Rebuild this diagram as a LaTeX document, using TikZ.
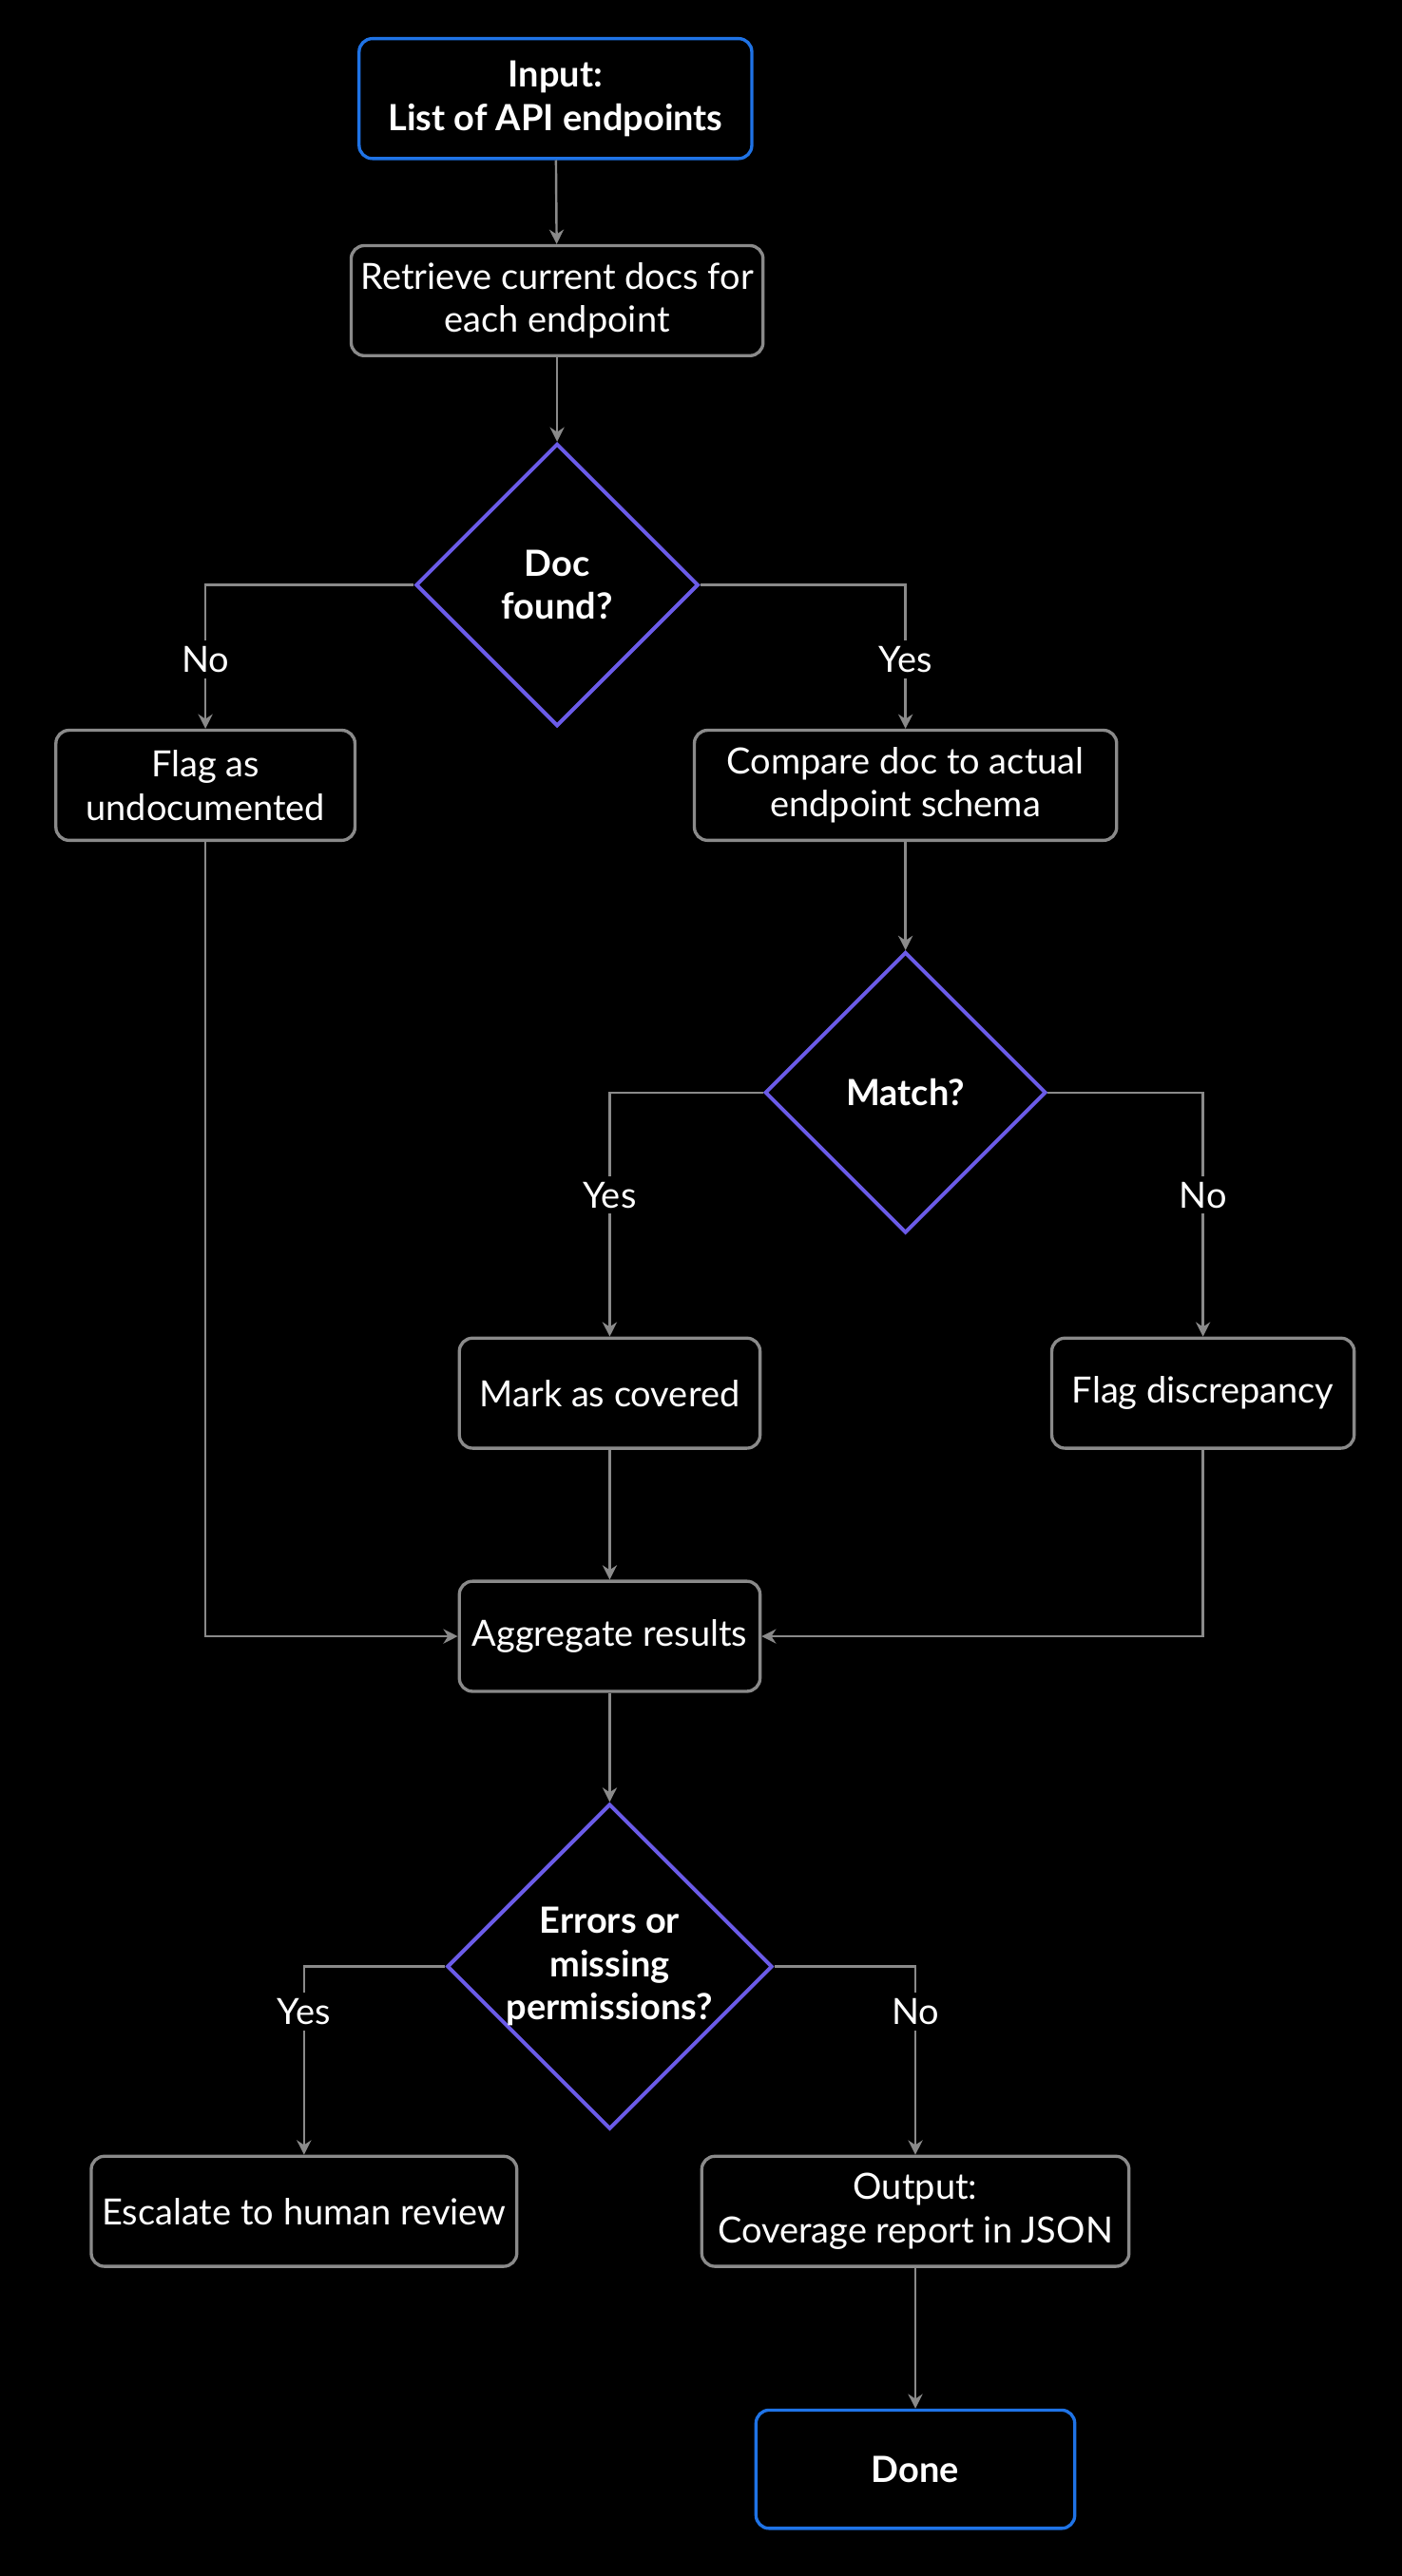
\documentclass[tikz,border=0pt]{standalone}
\usepackage{fontspec}
\setmainfont{Lato}
\usetikzlibrary{shapes.geometric}
\usetikzlibrary{arrows.meta}
\definecolor{boxline}{HTML}{8A8A8A}
\definecolor{arrowline}{HTML}{8A8A8A}
\definecolor{decline}{HTML}{6B5BE8}
\definecolor{termline}{HTML}{1F73E6}
\tikzset{x=0.02cm, y=-0.02cm,
    every node/.style={font=\fontsize{12.5}{15}\selectfont, text=white, align=center},
    process/.style={
        draw=boxline, line width=1.1pt, rounded corners=0.16cm,
        fill=black, minimum height=1.34cm},
    terminal/.style={
        process, draw=termline, font=\fontsize{12.5}{15}\selectfont\bfseries},
    decision/.style={
        diamond, draw=decline, line width=1.3pt, fill=black,
        font=\fontsize{12.5}{15}\selectfont\bfseries, inner sep=0pt},
    branch/.style={fill=black, inner sep=2pt},
    flow/.style={
        draw=arrowline, line width=0.8pt,
        -{Stealth[length=5pt,width=5pt]}}}

\begin{document}
\begin{tikzpicture}
        \fill[black] (0,0) rectangle (853,1568);
        \node[terminal, minimum width=4.78cm, minimum height=1.46cm] (input) at (338,60) {Input:\\List of API endpoints};
        \node[process, minimum width=4.48cm] (retrieve) at (339,183) {Retrieve current docs for\\each endpoint};
        \node[decision, minimum width=3.44cm, minimum height=3.44cm] (found) at (339,356) {Doc\\found?};
        \node[process, minimum width=3.64cm] (undoc) at (125,478) {Flag as\\undocumented};
        \node[process, minimum width=5.14cm] (compare) at (551,478) {Compare doc to actual\\endpoint schema};
        \node[decision, minimum width=3.42cm, minimum height=3.42cm] (match) at (551,665) {Match?};
        \node[process, minimum width=3.66cm] (covered) at (371,848) {Mark as covered};
        \node[process, minimum width=3.68cm] (discrep) at (732,848) {Flag discrepancy};
        \node[process, minimum width=3.66cm] (aggregate) at (371,996) {Aggregate results};
        \node[decision, minimum width=3.8cm, minimum height=3.8cm] (errors) at (371,1197) {Errors or\\missing\\permissions?};
        \node[process, minimum width=5.18cm] (escalate) at (185,1346) {Escalate to human review};
        \node[process, minimum width=5.2cm] (output) at (557,1346) {Output:\\Coverage report in JSON};
        \node[terminal, minimum width=3.88cm, minimum height=1.44cm] (done) at (557,1503) {Done};

        \draw[flow] (input) -- (retrieve);
        \draw[flow] (retrieve) -- (found);
        \draw[flow] (found.west) -| node[branch, pos=0.76] {No} (undoc);
        \draw[flow] (found.east) -| node[branch, pos=0.76] {Yes} (compare);
        \draw[flow] (compare) -- (match);
        \draw[flow] (match.west) -| node[branch, pos=0.71] {Yes} (covered);
        \draw[flow] (match.east) -| node[branch, pos=0.71] {No} (discrep);
        \draw[flow] (covered) -- (aggregate);
        \draw[flow] (undoc) |- (aggregate);
        \draw[flow] (discrep) |- (aggregate);
        \draw[flow] (aggregate) -- (errors);
        \draw[flow] (errors.west) -| node[branch, pos=0.62] {Yes} (escalate);
        \draw[flow] (errors.east) -| node[branch, pos=0.62] {No} (output);
        \draw[flow] (output) -- (done);
    \end{tikzpicture}
\end{document}
